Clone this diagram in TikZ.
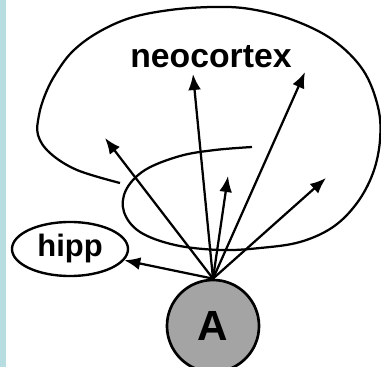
\documentclass[tikz,border=0pt]{standalone}
\usepackage{fontspec}
\newfontfamily\labelfont{Liberation Sans}
\usetikzlibrary{arrows.meta,shapes.geometric}
\definecolor{stripblue}{HTML}{B7DDE0}
\definecolor{cellgray}{HTML}{A4A4A4}
\tikzset{
  proj/.style={line width=1.6pt, -{Latex[length=0.4cm,width=0.32cm]}},
  area/.style={draw, line width=1.7pt, ellipse}
}

\begin{document}
\begin{tikzpicture}[x=0.025cm, y=-0.025cm]
\useasboundingbox (0,0) rectangle (381,367);
\fill[stripblue] (0,0) rectangle (6,367);

% neocortex outline
\draw[line width=1.6pt] plot[smooth, tension=0.6] coordinates {
  (120,183) (77,170) (50,153) (38,135) (39,115) (45,95) (55,75) (72,52)
  (97,33) (130,18) (170,10) (213,7) (250,9) (293,20) (333,40) (363,70)
  (378,107) (380,140) (373,173) (357,203) (333,227) (300,242) (260,248)
  (220,250) (175,245) (140,232) (124,212) (126,190) (145,170) (180,156)
  (215,150) (252,147)};

\node[font=\labelfont\bfseries\fontsize{24}{28}\selectfont] (neo) at (211,57) {neocortex};
\node[area, minimum width=2.9cm, minimum height=1.2cm,
      font=\labelfont\bfseries\fontsize{22}{26}\selectfont] (hipp) at (70,249) {hipp};
\node[draw, line width=1.9pt, circle, fill=cellgray, minimum size=2.3cm, inner sep=0pt,
      font=\labelfont\bfseries\fontsize{30}{34}\selectfont] (A) at (213,326) {A};

\coordinate (t1) at (105,138);
\coordinate (t2) at (193,74);
\coordinate (t3) at (228,176);
\coordinate (t4) at (305,72);
\coordinate (t5) at (326,178);

\foreach \t in {t1,t2,t3,t4,t5}
  \draw[proj] (A.north) -- (\t);
\draw[proj] (A.north) -- (hipp);
\end{tikzpicture}
\end{document}
